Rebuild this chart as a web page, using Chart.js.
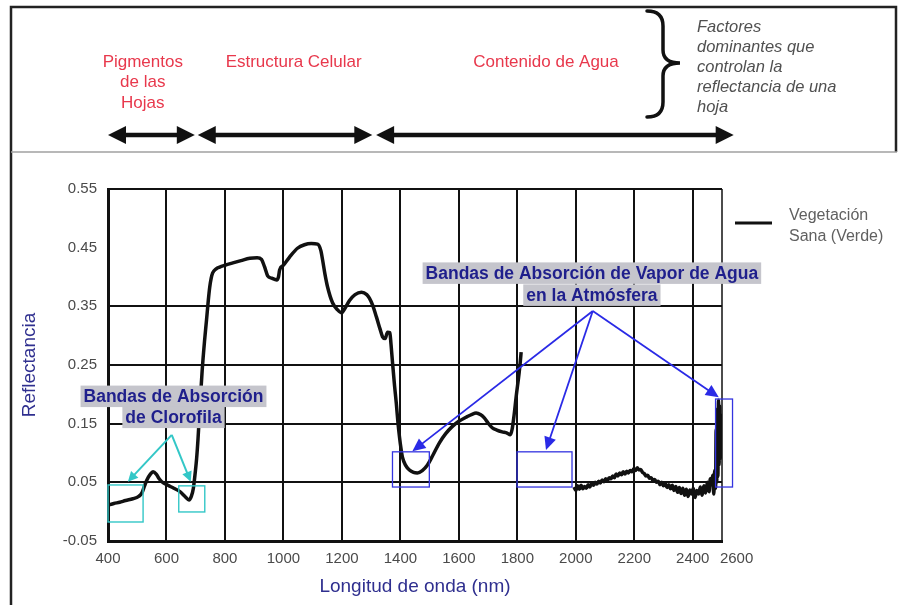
<!DOCTYPE html>
<html><head><meta charset="utf-8">
<script src="https://cdn.jsdelivr.net/npm/chart.js@4.4.1/dist/chart.umd.min.js"></script>
<style>html,body{margin:0;padding:0;background:#fff;}canvas{display:block;}</style>
</head><body>
<canvas id="c" width="898" height="605"></canvas>
<script>
// ---------- data ----------
const wavelengthNm = [
  400,420,440,460,485,505,516,525,533,545,554,565,575,584,605,625,646,665,677,685,
  692,698,703,708,712,717,722,730,737,743,748,753,758,770,782,800,827,855,885,910,
  925,935,946,960,977,983,987,1000,1021,1048,1072,1095,1117,1128,1134,1142,1151,1168,1185,1199,
  1212,1226,1245,1267,1285,1294,1305,1318,1330,1339,1348,1356,1364,1368,1373,1380,1386,1392,1397,1402,
  1407,1418,1431,1445,1458,1475,1492,1512,1533,1555,1577,1600,1625,1645,1659,1675,1687,1700,1714,1730,
  1748,1765,1776,1782,1789,1796,1806,1810,1813,
  1900,
  1994,2000,2006,2012,2018,2024,2030,2036,2042,2048,2054,2060,2066,2072,2078,2084,2090,2096,2102,2108,
  2114,2120,2126,2132,2138,2144,2150,2156,2162,2168,2174,2180,2186,2192,2198,2204,2210,2216,2222,2228,
  2234,2240,2246,2252,2258,2264,2270,2276,2282,2288,2294,2300,2306,2312,2318,2324,2330,2336,2342,2348,
  2354,2360,2366,2372,2378,2384,2390,2396,2402,2408,2414,2420,2426,2432,2438,2444,2450,2456,2460,2464,
  2468,2472,2475,2478,2480,2482,2484,2486,2488,2490,2492,2494,2496,2498,2500
];
const reflectance = [
  0.011,0.014,0.016,0.019,0.022,0.026,0.032,0.044,0.054,0.064,0.068,0.064,0.056,0.051,0.045,0.040,0.034,0.025,0.020,0.026,
  0.040,0.065,0.090,0.125,0.160,0.200,0.240,0.290,0.327,0.360,0.383,0.398,0.407,0.414,0.417,0.420,0.424,0.428,0.432,0.433,
  0.430,0.418,0.402,0.398,0.395,0.400,0.412,0.420,0.434,0.449,0.455,0.457,0.456,0.445,0.429,0.405,0.383,0.356,0.344,0.339,
  0.348,0.360,0.370,0.374,0.370,0.364,0.352,0.332,0.312,0.298,0.295,0.306,0.305,0.285,0.255,0.215,0.185,0.150,0.127,0.108,
  0.093,0.079,0.071,0.067,0.066,0.070,0.079,0.097,0.117,0.133,0.145,0.154,0.161,0.166,0.168,0.165,0.160,0.151,0.143,0.139,
  0.136,0.134,0.131,0.140,0.165,0.196,0.236,0.255,0.272,
  null,
  0.042,0.036,0.044,0.038,0.045,0.039,0.043,0.040,0.046,0.042,0.048,0.045,0.050,0.047,0.052,0.049,0.054,0.051,0.056,0.053,
  0.058,0.056,0.061,0.058,0.064,0.061,0.066,0.063,0.068,0.064,0.069,0.066,0.070,0.068,0.073,0.070,0.075,0.071,0.072,0.067,
  0.065,0.061,0.062,0.057,0.058,0.053,0.055,0.050,0.052,0.046,0.050,0.044,0.048,0.041,0.046,0.039,0.045,0.036,0.043,0.033,
  0.041,0.031,0.040,0.028,0.038,0.026,0.037,0.030,0.040,0.024,0.036,0.030,0.042,0.028,0.044,0.032,0.050,0.034,0.056,0.046,
  0.062,0.030,0.070,0.040,0.140,0.050,0.175,0.060,0.190,0.080,0.180,0.090,0.165,0.110,0.150
];
const seriesLabel = 'Vegetación Sana (Verde)';
// the last label sits just right of the plot's right edge, as in the picture
const xTickValues = [400,600,800,1000,1200,1400,1600,1800,2000,2200,2400,2550];
const xTickLabels = ['400','600','800','1000','1200','1400','1600','1800','2000','2200','2400','2600'];
const yTickValues = [-0.05,0.05,0.15,0.25,0.35,0.45,0.55];
const xTitle = 'Longitud de onda (nm)';
const yTitle = 'Reflectancia';

// header factors (wavelength ranges of the arrows, label centre in nm)
const factorLabels = [['Pigmentos','de las','Hojas'], ['Estructura Celular'], ['Contenido de Agua']];
const factorLabelCenters = [519, 1035, 1898];
const factorRanges = [[400,697],[707,1304],[1317,2540]];
const factorNote = ['Factores','dominantes que','controlan la','reflectancia de una','hoja'];

// annotations (data units: nm, reflectance)
const chloroText = ['Bandas de Absorción','de Clorofila'];
const chloroTextAnchor = [624, 0.197];
const chloroApex = [618, 0.131];
const chloroTips = [[468, 0.051],[683, 0.051]];
const chloroBoxes = [[400, 520, 0.0455, -0.0176],[642, 731, 0.044, -0.0005]];
const vaporText = ['Bandas de Absorción de Vapor de Agua','en la Atmósfera'];
const vaporTextAnchor = [2055, 0.407];
const vaporApex = [2058, 0.342];
const vaporTips = [[1441, 0.103],[1898, 0.105],[2489, 0.195]];
const vaporBoxes = [[1373, 1499, 0.102, 0.042],[1799, 1987, 0.102, 0.042],[2478, 2536, 0.192, 0.042]];

// ---------- drawing ----------
const FONT = '"Liberation Sans", Arial, Helvetica, sans-serif';
const points = wavelengthNm.map((w, i) => ({x: w, y: reflectance[i]}));

function head(ctx, x1, y1, x2, y2, len, half) {
  const a = Math.atan2(y2 - y1, x2 - x1);
  const c = Math.cos(a), s = Math.sin(a);
  ctx.beginPath();
  ctx.moveTo(x2, y2);
  ctx.lineTo(x2 - len * c + half * s, y2 - len * s - half * c);
  ctx.lineTo(x2 - len * c - half * s, y2 - len * s + half * c);
  ctx.closePath();
  ctx.fill();
}
function arrow(ctx, x1, y1, x2, y2, color, width, len, half) {
  ctx.save();
  ctx.strokeStyle = color; ctx.fillStyle = color; ctx.lineWidth = width;
  const a = Math.atan2(y2 - y1, x2 - x1);
  ctx.beginPath(); ctx.moveTo(x1, y1);
  ctx.lineTo(x2 - (len * 0.8) * Math.cos(a), y2 - (len * 0.8) * Math.sin(a));
  ctx.stroke();
  head(ctx, x1, y1, x2, y2, len, half);
  ctx.restore();
}
function labelBlock(ctx, lines, cx, cy, step) {
  ctx.save();
  ctx.font = 'bold 17.5px ' + FONT;
  ctx.textAlign = 'center'; ctx.textBaseline = 'middle';
  lines.forEach((t, i) => {
    const y = cy + i * step;
    const w = ctx.measureText(t).width;
    ctx.fillStyle = '#c5c5cc';
    ctx.fillRect(cx - w / 2 - 3, y - 10.5, w + 6, 21.5);
    ctx.fillStyle = '#1f1f8c';
    ctx.fillText(t, cx, y + 1);
  });
  ctx.restore();
}

const decor = {
  id: 'decor',
  beforeDraw(chart) {
    const ctx = chart.ctx;
    ctx.save();
    ctx.fillStyle = '#fff';
    ctx.fillRect(0, 0, chart.width, chart.height);
    ctx.restore();
  },
  afterDatasetsDraw(chart) {
    const ctx = chart.ctx, xs = chart.scales.x, ys = chart.scales.y, a = chart.chartArea;
    const X = v => xs.getPixelForValue(v), Y = v => ys.getPixelForValue(v);

    // plot frame top/right
    ctx.save();
    ctx.strokeStyle = '#111'; ctx.lineWidth = 2;
    ctx.beginPath(); ctx.moveTo(a.left, a.top); ctx.lineTo(a.right, a.top); ctx.stroke();
    ctx.lineWidth = 1.5;
    ctx.beginPath(); ctx.moveTo(a.right, a.top); ctx.lineTo(a.right, a.bottom); ctx.stroke();
    ctx.restore();

    // chlorophyll annotation
    ctx.save();
    ctx.strokeStyle = '#33c7c7'; ctx.lineWidth = 1.4;
    chloroBoxes.forEach(b => {
      ctx.strokeRect(X(b[0]), Y(b[2]), X(b[1]) - X(b[0]), Y(b[3]) - Y(b[2]));
    });
    ctx.restore();
    chloroTips.forEach(t => arrow(ctx, X(chloroApex[0]), Y(chloroApex[1]), X(t[0]), Y(t[1]), '#33c7c7', 2, 10, 5));
    labelBlock(ctx, chloroText, X(chloroTextAnchor[0]), Y(chloroTextAnchor[1]), 21);

    // water vapour annotation
    ctx.save();
    ctx.strokeStyle = '#3434e0'; ctx.lineWidth = 1.3;
    vaporBoxes.forEach(b => {
      ctx.strokeRect(X(b[0]), Y(b[2]), X(b[1]) - X(b[0]), Y(b[3]) - Y(b[2]));
    });
    ctx.restore();
    vaporTips.forEach(t => arrow(ctx, X(vaporApex[0]), Y(vaporApex[1]), X(t[0]), Y(t[1]), '#2a2ae6', 1.8, 13, 6));
    labelBlock(ctx, vaporText, X(vaporTextAnchor[0]), Y(vaporTextAnchor[1]), 22);

    // legend
    ctx.save();
    const lx = a.right + 13;
    ctx.strokeStyle = '#111'; ctx.lineWidth = 3;
    ctx.beginPath(); ctx.moveTo(lx, 223); ctx.lineTo(lx + 37, 223); ctx.stroke();
    ctx.fillStyle = '#606060'; ctx.font = '16px ' + FONT;
    ctx.textAlign = 'left'; ctx.textBaseline = 'middle';
    const parts = seriesLabel.split(' ');
    ctx.fillText(parts[0], lx + 54, 216);
    ctx.fillText(parts.slice(1).join(' '), lx + 54, 237);
    ctx.restore();

    // header frame
    ctx.save();
    ctx.strokeStyle = '#222'; ctx.lineWidth = 2.5;
    ctx.beginPath();
    ctx.moveTo(11, chart.height); ctx.lineTo(11, 7); ctx.lineTo(896, 7); ctx.lineTo(896, 152);
    ctx.stroke();
    ctx.strokeStyle = '#a0a0a0'; ctx.lineWidth = 1.5;
    ctx.beginPath(); ctx.moveTo(11, 152); ctx.lineTo(897, 152); ctx.stroke();

    // header labels
    ctx.fillStyle = '#e8384c'; ctx.font = '17px ' + FONT;
    ctx.textAlign = 'center'; ctx.textBaseline = 'middle';
    factorLabels.forEach((lines, i) => {
      lines.forEach((t, j) => ctx.fillText(t, X(factorLabelCenters[i]), 62 + j * 20.5));
    });
    // header double arrows
    ctx.strokeStyle = '#111'; ctx.fillStyle = '#111'; ctx.lineWidth = 4.5;
    factorRanges.forEach(r => {
      const x1 = X(r[0]), x2 = X(r[1]), y = 135;
      ctx.beginPath(); ctx.moveTo(x1 + 12, y); ctx.lineTo(x2 - 12, y); ctx.stroke();
      head(ctx, x2, y, x1, y, 18, 9);
      head(ctx, x1, y, x2, y, 18, 9);
    });
    // brace
    ctx.lineWidth = 3.5; ctx.lineCap = 'round';
    ctx.beginPath();
    ctx.moveTo(647, 11);
    ctx.quadraticCurveTo(663, 11, 663, 26);
    ctx.lineTo(663, 50);
    ctx.quadraticCurveTo(663, 63, 680, 63);
    ctx.quadraticCurveTo(663, 63, 663, 76);
    ctx.lineTo(663, 102);
    ctx.quadraticCurveTo(663, 117, 647, 117);
    ctx.stroke();
    // note
    ctx.fillStyle = '#505050'; ctx.font = 'italic 16.5px ' + FONT;
    ctx.textAlign = 'left';
    factorNote.forEach((t, i) => ctx.fillText(t, 697, 27 + i * 20.2));
    ctx.restore();
  }
};

new Chart(document.getElementById('c'), {
  type: 'line',
  data: {
    datasets: [{
      label: seriesLabel,
      data: points,
      borderColor: '#111',
      borderWidth: 3.5,
      pointRadius: 0,
      spanGaps: false,
      cubicInterpolationMode: 'monotone',
      fill: false
    }]
  },
  options: {
    responsive: false,
    animation: false,
    devicePixelRatio: 1,
    layout: { padding: { left: 12, top: 189, right: 176, bottom: 5 } },
    plugins: { legend: { display: false }, tooltip: { enabled: false } },
    scales: {
      x: {
        type: 'linear', min: 400, max: 2500,
        afterBuildTicks: s => { s.ticks = xTickValues.map(v => ({ value: v })); },
        afterFit: s => { s.height = 59; },
        ticks: {
          autoSkip: false, maxRotation: 0, padding: 9,
          color: '#4a4a4a', font: { family: FONT, size: 15 },
          callback: (v, i) => xTickLabels[i]
        },
        grid: {
          drawTicks: false, lineWidth: 2,
          color: c => (c.tick && (c.tick.value <= 400 || c.tick.value >= 2500)) ? 'rgba(0,0,0,0)' : '#111'
        },
        border: { color: '#111', width: 3 },
        title: {
          display: true, text: xTitle, color: '#2f2f8f',
          font: { family: FONT, size: 19 }, padding: { top: 0, bottom: 2 }
        }
      },
      y: {
        type: 'linear', min: -0.05, max: 0.55,
        afterBuildTicks: s => { s.ticks = yTickValues.map(v => ({ value: v })); },
        afterFit: s => { s.width = 96; },
        ticks: {
          padding: 11, color: '#4a4a4a', font: { family: FONT, size: 15 },
          callback: v => v.toFixed(2)
        },
        grid: {
          drawTicks: false, lineWidth: 2,
          color: c => {
            const v = c.tick ? Math.round(c.tick.value * 100) : 0;
            return (v === 45 || v === -5 || v === 55) ? 'rgba(0,0,0,0)' : '#111';
          }
        },
        border: { color: '#111', width: 3 },
        title: {
          display: true, text: yTitle, color: '#2f2f8f',
          font: { family: FONT, size: 19 }, padding: { top: 6, bottom: 0 }
        }
      }
    }
  },
  plugins: [decor]
});
</script>
</body></html>
